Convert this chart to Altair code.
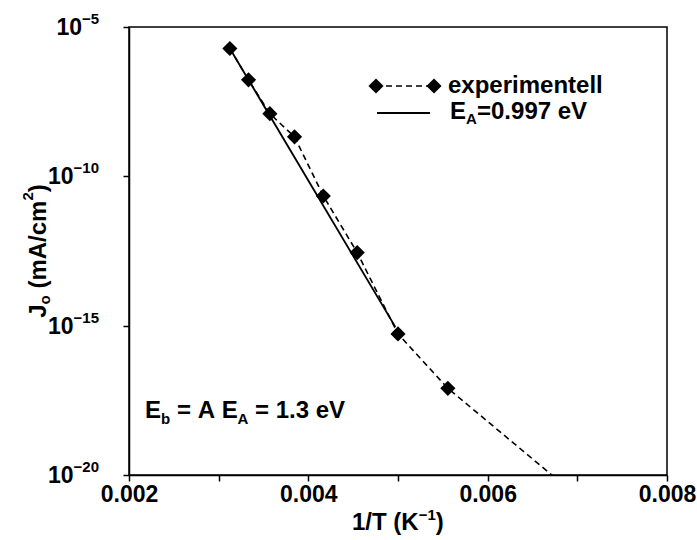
import altair as alt
import pandas as pd

# ---- data ----
inv_T = [0.003125, 0.003333, 0.003571, 0.003846, 0.004167, 0.004545, 0.005000, 0.005556, 0.007143]
J0 = [1.9e-6, 1.7e-7, 1.25e-8, 2.1e-9, 2.2e-11, 2.8e-13, 5.3e-16, 8.0e-18, 8.5e-22]
fit_inv_T = [0.003125, 0.00497]
fit_J0 = [1.9e-6, 9.1e-16]
x_ticks = [0.002, 0.003, 0.004, 0.005, 0.006, 0.007, 0.008]
y_ticks = [1e-5, 1e-10, 1e-15, 1e-20]
y_exponents = [-5, -10, -15, -20]

FONT = "Liberation Sans"
NB = "\u00a0"
W, H = 538, 448

exp_df = pd.DataFrame({"x": inv_T, "J": J0})
fit_df = pd.DataFrame({"x": fit_inv_T, "J": fit_J0})
tick_df = pd.DataFrame({"J": y_ticks, "e": y_exponents})
tick_df["base"] = "10"
tick_df["sup"] = ["\u2212" + str(-e) for e in y_exponents]
one = pd.DataFrame({"k": [0]})

xscale = alt.Scale(domain=[0.002, 0.008], nice=False, zero=False)
yscale = alt.Scale(type="log", domain=[1e-20, 1e-5], nice=False)

x_axis = alt.Axis(values=x_ticks, title=None, grid=False,
                  labelExpr="(round(datum.value*1000) % 2 == 0) ? format(datum.value, '.3f') : ''",
                  labelFont=FONT, labelFontWeight="bold", labelFontSize=23, labelColor="black",
                  labelPadding=2, labelFlush=False, labelOverlap=False, labelBound=False,
                  tickSize=6, tickWidth=1.5, tickColor="black",
                  domainColor="black", domainWidth=1.5)
y_axis = alt.Axis(values=y_ticks, title=None, grid=False, labels=False,
                  tickSize=6, tickWidth=1.5, tickColor="black",
                  domainColor="black", domainWidth=1.5)

X = alt.X("x:Q", scale=xscale, axis=x_axis)
Y = alt.Y("J:Q", scale=yscale, axis=y_axis)

exp_line = alt.Chart(exp_df).mark_line(color="black", strokeDash=[6, 4], strokeWidth=1.6, clip=True).encode(x=X, y=Y)
fit_line = alt.Chart(fit_df).mark_line(color="black", strokeWidth=1.8, clip=True).encode(x="x:Q", y="J:Q")
exp_pts = alt.Chart(exp_df).mark_point(shape="diamond", filled=True, size=230, color="black",
                                       opacity=1, clip=True).encode(x="x:Q", y="J:Q")

# y tick labels 10^n built from pieces
base1 = alt.Chart(tick_df).transform_filter("datum.e > -10").mark_text(
    font=FONT, fontWeight="bold", fontSize=23, align="right", baseline="middle", dy=1, color="black"
).encode(x=alt.value(-47), y=alt.Y("J:Q"), text="base:N")
base2 = alt.Chart(tick_df).transform_filter("datum.e <= -10").mark_text(
    font=FONT, fontWeight="bold", fontSize=23, align="right", baseline="middle", dy=1, color="black"
).encode(x=alt.value(-55.5), y=alt.Y("J:Q"), text="base:N")
sups = alt.Chart(tick_df).mark_text(
    font=FONT, fontWeight="bold", fontSize=15, align="right", baseline="middle", dy=-8, color="black"
).encode(x=alt.value(-30), y=alt.Y("J:Q"), text="sup:N")


def piece(s, x, y, size=24, angle=None, align="left", baseline="alphabetic"):
    kw = dict(text=s, font=FONT, fontWeight="bold", fontSize=size, align=align,
              baseline=baseline, color="black")
    if angle is not None:
        kw["angle"] = angle
    return alt.Chart(one).mark_text(**kw).encode(x=alt.value(x), y=alt.value(y))


# legend
leg_dash = alt.Chart(one).mark_rule(color="black", strokeDash=[6, 4], strokeWidth=1.6).encode(
    x=alt.value(247), x2=alt.value(305), y=alt.value(59))
leg_d1 = alt.Chart(one).mark_point(shape="diamond", filled=True, size=230, color="black", opacity=1).encode(
    x=alt.value(247), y=alt.value(59))
leg_d2 = alt.Chart(one).mark_point(shape="diamond", filled=True, size=230, color="black", opacity=1).encode(
    x=alt.value(305), y=alt.value(59))
leg_solid = alt.Chart(one).mark_rule(color="black", strokeWidth=1.8).encode(
    x=alt.value(248), x2=alt.value(301), y=alt.value(86))
leg_t1 = piece("experimentell", 319, 66)
leg_t2a = piece("E", 321, 92)
leg_t2b = piece("A", 337, 97, size=15)
leg_t2c = piece("=0.997" + NB + "eV", 348, 92)

# annotation E_b = A E_A = 1.3 eV
ann = [
    piece("E", 16, 391),
    piece("b", 32, 397, size=15),
    piece("=" + NB + "A" + NB + "E", 48, 391),
    piece("A", 108.6, 397, size=15),
    piece("=" + NB + "1.3" + NB + "eV", 126, 391),
]

# x title 1/T (K^-1)
xt = [
    piece("1/T" + NB + "(K", 223, 503),
    piece("\u22121", 289.7, 493, size=15),
    piece(")", 306.8, 503),
]

# y title J_o (mA/cm^2), rotated
yt = [
    piece("J", -83, 290.8, angle=270),
    piece("o", -79, 277.5, size=15, angle=270),
    piece("(mA/cm", -83, 261.6, angle=270),
    piece("2", -96, 173.6, size=15, angle=270),
    piece(")", -83, 165.3, angle=270),
]

chart = alt.layer(
    exp_line, fit_line, exp_pts, base1, base2, sups,
    leg_dash, leg_d1, leg_d2, leg_solid, leg_t1, leg_t2a, leg_t2b, leg_t2c,
    *ann, *xt, *yt
).properties(
    width=W, height=H,
    autosize=alt.AutoSizeParams(type="none"),
    padding={"left": 129, "top": 27, "right": 30, "bottom": 65},
    background="white",
).configure_view(stroke="black", strokeWidth=1.5)

chart.save("out.html", embed_options={"renderer": "svg", "actions": False})
